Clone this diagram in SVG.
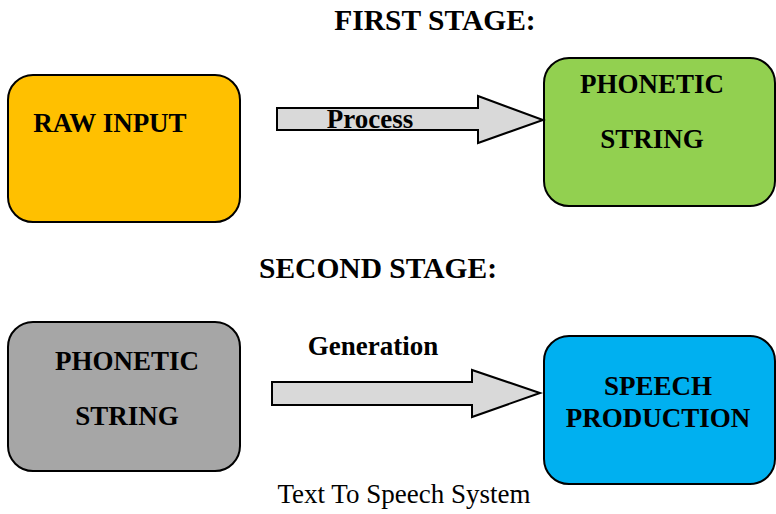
<svg xmlns="http://www.w3.org/2000/svg" width="776" height="514" viewBox="0 0 776 514">
  <style>
    .box { stroke: #000; stroke-width: 2; }
    .arrow { fill: #d9d9d9; stroke: #000; stroke-width: 2; stroke-linejoin: miter; }
    .lbl { font-family: "Liberation Serif", "Times New Roman", serif; font-weight: bold; font-size: 27px; fill: #000; text-anchor: middle; }
    .title { font-family: "Liberation Serif", "Times New Roman", serif; font-weight: bold; font-size: 29.5px; fill: #000; text-anchor: middle; }
    .cap { font-family: "Liberation Serif", "Times New Roman", serif; font-size: 27px; fill: #000; text-anchor: middle; }
  </style>

  <text class="title" x="435" y="30">FIRST STAGE:</text>
  <text class="title" x="378" y="278">SECOND STAGE:</text>

  <g id="raw-input">
    <rect class="box" x="8" y="75" width="232" height="147" rx="25" fill="#ffc000"/>
    <text class="lbl" x="110" y="132">RAW INPUT</text>
  </g>

  <g id="phonetic-string-1">
    <rect class="box" x="544" y="58" width="231" height="148" rx="25" fill="#92d050"/>
    <text class="lbl" x="652" y="93">PHONETIC</text>
    <text class="lbl" x="652" y="148">STRING</text>
  </g>

  <g id="phonetic-string-2">
    <rect class="box" x="8" y="322" width="232" height="149" rx="25" fill="#a6a6a6"/>
    <text class="lbl" x="127" y="370">PHONETIC</text>
    <text class="lbl" x="127" y="425">STRING</text>
  </g>

  <g id="speech-production">
    <rect class="box" x="544" y="336" width="231" height="148" rx="25" fill="#00b0f0"/>
    <text class="lbl" x="658" y="395">SPEECH</text>
    <text class="lbl" x="658" y="427">PRODUCTION</text>
  </g>

  <g id="connectors">
    <g id="process">
      <polygon class="arrow" points="277,108 478,108 478,96 543,120 478,143 478,130 277,130"/>
      <text class="lbl" x="370" y="128">Process</text>
    </g>
    <g id="generation">
      <polygon class="arrow" points="272,382 472,382 472,370 540,393 472,417 472,405 272,405"/>
      <text class="lbl" x="373" y="355">Generation</text>
    </g>
  </g>

  <text class="cap" x="404" y="503">Text To Speech System</text>
</svg>
